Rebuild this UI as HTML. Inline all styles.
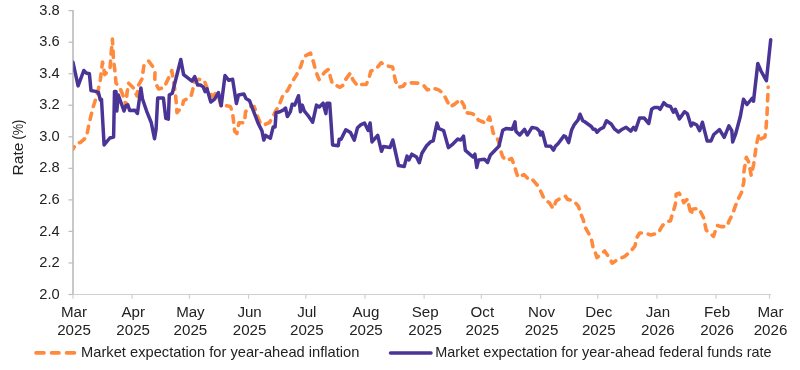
<!DOCTYPE html>
<html><head><meta charset="utf-8"><style>
html,body{margin:0;padding:0;background:#fff;}
body{width:800px;height:370px;overflow:hidden;}
svg{display:block;will-change:transform;}
.t{font-family:"Liberation Sans",sans-serif;font-size:14px;fill:#222;}
.lg{font-size:14px;}
</style></head><body>
<svg width="800" height="370" viewBox="0 0 800 370">
<line x1="73" y1="10" x2="73" y2="295" stroke="#C2C2C2" stroke-width="1.8"/>
<line x1="72.3" y1="294.5" x2="771" y2="294.5" stroke="#D0D0D0" stroke-width="1.2"/>
<line x1="68.5" y1="294.50" x2="73" y2="294.50" stroke="#BDBDBD" stroke-width="1.2"/>
<g transform="translate(59.80,298.60) scale(1.05,1)"><text x="0" y="0" text-anchor="end" class="t">2.0</text></g>
<line x1="68.5" y1="262.96" x2="73" y2="262.96" stroke="#BDBDBD" stroke-width="1.2"/>
<g transform="translate(59.80,267.06) scale(1.05,1)"><text x="0" y="0" text-anchor="end" class="t">2.2</text></g>
<line x1="68.5" y1="231.42" x2="73" y2="231.42" stroke="#BDBDBD" stroke-width="1.2"/>
<g transform="translate(59.80,235.52) scale(1.05,1)"><text x="0" y="0" text-anchor="end" class="t">2.4</text></g>
<line x1="68.5" y1="199.88" x2="73" y2="199.88" stroke="#BDBDBD" stroke-width="1.2"/>
<g transform="translate(59.80,203.98) scale(1.05,1)"><text x="0" y="0" text-anchor="end" class="t">2.6</text></g>
<line x1="68.5" y1="168.34" x2="73" y2="168.34" stroke="#BDBDBD" stroke-width="1.2"/>
<g transform="translate(59.80,172.44) scale(1.05,1)"><text x="0" y="0" text-anchor="end" class="t">2.8</text></g>
<line x1="68.5" y1="136.80" x2="73" y2="136.80" stroke="#BDBDBD" stroke-width="1.2"/>
<g transform="translate(59.80,140.90) scale(1.05,1)"><text x="0" y="0" text-anchor="end" class="t">3.0</text></g>
<line x1="68.5" y1="105.26" x2="73" y2="105.26" stroke="#BDBDBD" stroke-width="1.2"/>
<g transform="translate(59.80,109.36) scale(1.05,1)"><text x="0" y="0" text-anchor="end" class="t">3.2</text></g>
<line x1="68.5" y1="73.72" x2="73" y2="73.72" stroke="#BDBDBD" stroke-width="1.2"/>
<g transform="translate(59.80,77.82) scale(1.05,1)"><text x="0" y="0" text-anchor="end" class="t">3.4</text></g>
<line x1="68.5" y1="42.18" x2="73" y2="42.18" stroke="#BDBDBD" stroke-width="1.2"/>
<g transform="translate(59.80,46.28) scale(1.05,1)"><text x="0" y="0" text-anchor="end" class="t">3.6</text></g>
<line x1="68.5" y1="10.64" x2="73" y2="10.64" stroke="#BDBDBD" stroke-width="1.2"/>
<g transform="translate(59.80,14.74) scale(1.05,1)"><text x="0" y="0" text-anchor="end" class="t">3.8</text></g>
<line x1="73.00" y1="294.5" x2="73.00" y2="298.8" stroke="#D0D0D0" stroke-width="1.2"/>
<g transform="translate(74.00,317.00) scale(1.08,1)"><text x="0" y="0" text-anchor="middle" class="t">Mar</text></g>
<g transform="translate(74.00,334.80) scale(1.08,1)"><text x="0" y="0" text-anchor="middle" class="t">2025</text></g>
<line x1="132.15" y1="294.5" x2="132.15" y2="298.8" stroke="#D0D0D0" stroke-width="1.2"/>
<g transform="translate(133.15,317.00) scale(1.08,1)"><text x="0" y="0" text-anchor="middle" class="t">Apr</text></g>
<g transform="translate(133.15,334.80) scale(1.08,1)"><text x="0" y="0" text-anchor="middle" class="t">2025</text></g>
<line x1="189.40" y1="294.5" x2="189.40" y2="298.8" stroke="#D0D0D0" stroke-width="1.2"/>
<g transform="translate(190.40,317.00) scale(1.08,1)"><text x="0" y="0" text-anchor="middle" class="t">May</text></g>
<g transform="translate(190.40,334.80) scale(1.08,1)"><text x="0" y="0" text-anchor="middle" class="t">2025</text></g>
<line x1="248.56" y1="294.5" x2="248.56" y2="298.8" stroke="#D0D0D0" stroke-width="1.2"/>
<g transform="translate(249.56,317.00) scale(1.08,1)"><text x="0" y="0" text-anchor="middle" class="t">Jun</text></g>
<g transform="translate(249.56,334.80) scale(1.08,1)"><text x="0" y="0" text-anchor="middle" class="t">2025</text></g>
<line x1="305.80" y1="294.5" x2="305.80" y2="298.8" stroke="#D0D0D0" stroke-width="1.2"/>
<g transform="translate(306.80,317.00) scale(1.08,1)"><text x="0" y="0" text-anchor="middle" class="t">Jul</text></g>
<g transform="translate(306.80,334.80) scale(1.08,1)"><text x="0" y="0" text-anchor="middle" class="t">2025</text></g>
<line x1="364.96" y1="294.5" x2="364.96" y2="298.8" stroke="#D0D0D0" stroke-width="1.2"/>
<g transform="translate(365.96,317.00) scale(1.08,1)"><text x="0" y="0" text-anchor="middle" class="t">Aug</text></g>
<g transform="translate(365.96,334.80) scale(1.08,1)"><text x="0" y="0" text-anchor="middle" class="t">2025</text></g>
<line x1="424.11" y1="294.5" x2="424.11" y2="298.8" stroke="#D0D0D0" stroke-width="1.2"/>
<g transform="translate(425.11,317.00) scale(1.08,1)"><text x="0" y="0" text-anchor="middle" class="t">Sep</text></g>
<g transform="translate(425.11,334.80) scale(1.08,1)"><text x="0" y="0" text-anchor="middle" class="t">2025</text></g>
<line x1="481.36" y1="294.5" x2="481.36" y2="298.8" stroke="#D0D0D0" stroke-width="1.2"/>
<g transform="translate(482.36,317.00) scale(1.08,1)"><text x="0" y="0" text-anchor="middle" class="t">Oct</text></g>
<g transform="translate(482.36,334.80) scale(1.08,1)"><text x="0" y="0" text-anchor="middle" class="t">2025</text></g>
<line x1="540.51" y1="294.5" x2="540.51" y2="298.8" stroke="#D0D0D0" stroke-width="1.2"/>
<g transform="translate(541.51,317.00) scale(1.08,1)"><text x="0" y="0" text-anchor="middle" class="t">Nov</text></g>
<g transform="translate(541.51,334.80) scale(1.08,1)"><text x="0" y="0" text-anchor="middle" class="t">2025</text></g>
<line x1="597.76" y1="294.5" x2="597.76" y2="298.8" stroke="#D0D0D0" stroke-width="1.2"/>
<g transform="translate(598.76,317.00) scale(1.08,1)"><text x="0" y="0" text-anchor="middle" class="t">Dec</text></g>
<g transform="translate(598.76,334.80) scale(1.08,1)"><text x="0" y="0" text-anchor="middle" class="t">2025</text></g>
<line x1="656.92" y1="294.5" x2="656.92" y2="298.8" stroke="#D0D0D0" stroke-width="1.2"/>
<g transform="translate(657.92,317.00) scale(1.08,1)"><text x="0" y="0" text-anchor="middle" class="t">Jan</text></g>
<g transform="translate(657.92,334.80) scale(1.08,1)"><text x="0" y="0" text-anchor="middle" class="t">2026</text></g>
<line x1="716.07" y1="294.5" x2="716.07" y2="298.8" stroke="#D0D0D0" stroke-width="1.2"/>
<g transform="translate(717.07,317.00) scale(1.08,1)"><text x="0" y="0" text-anchor="middle" class="t">Feb</text></g>
<g transform="translate(717.07,334.80) scale(1.08,1)"><text x="0" y="0" text-anchor="middle" class="t">2026</text></g>
<line x1="769.50" y1="294.5" x2="769.50" y2="298.8" stroke="#D0D0D0" stroke-width="1.2"/>
<g transform="translate(770.50,317.00) scale(1.08,1)"><text x="0" y="0" text-anchor="middle" class="t">Mar</text></g>
<g transform="translate(770.50,334.80) scale(1.08,1)"><text x="0" y="0" text-anchor="middle" class="t">2026</text></g>
<g transform="translate(22.8,175.4) rotate(-90) scale(1.11,1)"><text x="0" y="0" class="t" style="font-size:14px">Rate</text></g>
<g transform="translate(22.8,139.6) rotate(-90) scale(0.91,1)"><text x="0" y="0" class="t" style="font-size:14px">(%)</text></g>
<defs><clipPath id="pc"><rect x="73.2" y="0" width="720" height="295"/></clipPath></defs><g clip-path="url(#pc)">
<polyline points="73.0,149.0 76.0,144.0 80.5,142.4 86.5,137.0 88.9,124.5 92.7,108.4 97.5,93.3 100.3,80.0 102.5,62.0 104.8,74.6 110.0,69.0 111.0,55.0 112.4,39.0 113.5,60.0 114.8,70.0 116.0,83.0 120.2,88.5 124.0,98.0 126.0,106.0 127.0,93.0 128.5,83.0 133.5,88.0 137.0,96.0 138.0,86.0 142.0,79.0 144.0,65.0 148.6,61.0 153.4,67.5 155.0,72.0 154.8,79.0 157.0,86.0 158.6,89.0 164.0,87.8 170.5,73.8 171.8,70.5 175.5,94.0 177.0,112.7 182.4,106.2 183.5,100.8 191.0,96.5 193.2,87.8 194.3,81.4 198.5,79.3 204.2,80.3 208.0,90.7 212.7,96.4 215.5,93.5 219.3,99.2 221.2,106.8 225.0,105.4 230.4,106.5 232.6,113.0 234.7,131.4 236.9,133.5 239.0,122.7 244.5,122.7 245.5,111.9 249.9,106.5 254.2,106.5 257.4,116.2 260.7,123.8 263.9,124.9 269.3,122.7 272.6,117.3 275.8,110.8 279.1,105.4 282.3,96.8 287.7,90.3 291.0,83.8 296.4,75.1 300.7,66.5 302.8,60.0 304.9,56.1 310.5,53.2 313.4,61.8 315.3,69.3 317.2,75.0 319.1,79.7 324.7,72.2 328.5,69.3 330.4,76.9 332.3,83.5 336.1,85.4 339.9,87.3 342.7,85.4 345.5,79.7 350.3,73.1 352.8,79.7 355.7,83.5 358.5,86.3 361.4,84.5 366.1,84.5 368.9,78.8 370.8,71.2 376.5,68.4 381.2,62.7 385.0,65.5 392.6,67.0 395.4,80.7 398.2,87.3 403.0,86.3 405.8,82.6 418.8,83.2 423.5,85.1 427.3,89.9 433.0,88.0 438.6,89.9 443.4,93.6 447.2,101.2 450.0,106.9 454.7,104.1 460.4,99.3 464.2,105.9 465.1,112.6 471.8,113.5 475.5,115.4 478.4,120.1 483.1,122.0 485.7,123.6 489.5,117.0 491.4,124.6 493.2,133.1 497.0,137.8 498.9,142.6 500.8,151.1 502.7,156.8 506.5,160.5 511.6,158.5 514.5,166.1 516.4,172.7 518.2,177.4 523.9,174.6 528.6,179.3 531.5,178.4 537.2,185.0 540.9,191.6 543.8,198.2 549.5,203.0 553.2,208.6 556.1,201.1 561.8,197.3 565.5,196.3 567.4,199.2 574.0,201.1 578.5,206.4 580.4,213.0 583.2,219.6 585.1,227.2 588.9,233.8 591.6,240.0 593.2,248.1 595.1,251.9 597.0,257.6 604.6,251.0 609.3,257.6 612.2,263.2 617.8,259.5 624.5,256.6 630.1,251.9 634.9,246.2 636.8,237.7 639.6,233.0 645.3,233.0 650.7,235.0 658.2,233.0 662.0,226.3 664.9,222.6 670.5,220.7 672.4,214.1 675.3,204.6 676.2,194.2 679.1,193.2 681.9,198.0 683.8,202.7 687.6,198.9 689.5,208.4 691.3,215.0 692.3,209.3 698.9,208.4 703.6,217.8 706.2,230.2 713.5,236.3 717.2,225.4 720.8,226.6 726.9,226.6 729.3,220.5 733.0,213.2 735.4,205.9 737.8,199.8 741.5,192.5 743.9,181.6 743.9,171.9 746.3,157.3 748.8,162.2 751.2,175.5 753.6,164.6 756.4,145.0 758.8,134.5 760.5,139.0 764.9,137.0 766.0,128.4 767.0,115.0 768.2,87.0" fill="none" stroke="#FF8A3D" stroke-width="3.6" stroke-dasharray="6.5 7" stroke-dashoffset="4" stroke-linecap="round" stroke-linejoin="round"/>
<polyline points="73.0,62.3 78.1,85.9 83.8,70.5 86.2,73.0 89.4,73.8 91.0,90.5 95.6,91.4 98.4,92.3 100.3,100.0 101.5,99.5 104.1,145.0 109.8,138.0 113.6,137.0 114.5,91.4 116.0,91.4 116.8,111.0 118.3,95.0 124.0,111.0 125.9,105.6 127.8,104.9 129.7,110.5 135.0,110.3 137.4,113.5 140.9,88.0 142.5,99.0 147.2,112.7 151.2,122.5 154.5,138.7 156.1,129.0 157.7,98.1 163.4,98.1 165.8,118.4 168.3,119.2 169.3,94.9 172.3,93.2 180.8,59.5 183.6,74.6 192.0,81.2 194.7,76.5 197.6,85.0 200.4,85.0 203.2,86.9 205.1,91.6 207.0,88.8 210.8,102.0 214.6,99.2 218.4,92.6 221.2,105.8 225.0,75.5 228.8,80.3 232.6,79.3 236.4,103.5 238.5,95.0 243.9,94.0 246.0,98.5 249.6,100.8 253.4,110.8 258.1,123.1 261.9,130.7 263.8,140.1 265.7,135.4 270.4,138.2 273.2,126.9 275.1,126.9 276.1,112.7 279.9,111.8 283.6,109.9 285.5,108.0 287.4,116.5 290.3,111.8 292.2,104.2 294.7,105.1 298.5,95.7 300.4,111.8 302.3,105.1 304.2,110.8 308.0,115.5 312.7,122.2 316.5,105.1 319.3,107.0 323.1,103.2 325.9,113.6 326.9,103.2 329.7,103.2 332.6,144.9 338.2,145.8 339.2,139.2 341.1,139.2 343.0,135.4 345.8,129.7 350.5,132.6 354.3,140.1 357.5,127.7 360.7,124.9 364.5,123.0 368.2,130.5 370.1,123.0 372.0,141.9 377.7,135.3 381.5,151.3 383.4,146.6 390.0,147.6 392.8,140.0 398.5,165.5 404.2,166.5 407.0,156.1 408.9,159.9 411.8,154.2 416.5,157.0 419.3,162.7 421.9,153.2 426.6,145.7 430.4,141.9 433.2,140.9 437.0,123.0 438.9,128.6 443.6,130.5 448.4,147.6 453.1,143.8 457.8,139.1 460.7,140.0 463.5,136.2 465.4,150.4 473.0,157.0 474.9,154.2 476.8,167.4 478.6,159.9 484.5,159.3 487.6,162.4 490.4,154.9 498.9,146.3 502.7,130.3 506.5,128.4 512.2,129.3 515.0,121.8 515.9,131.2 519.7,135.0 524.5,129.3 527.3,135.0 532.0,127.4 536.8,128.4 539.6,131.2 540.5,135.0 542.4,132.2 546.0,146.0 550.7,146.3 553.5,150.1 555.4,146.3 558.2,143.5 563.9,135.9 565.8,136.9 568.6,142.6 571.5,130.3 574.3,124.6 578.1,119.9 580.0,114.2 582.8,120.8 584.7,121.8 591.3,126.5 593.2,129.3 595.1,129.3 597.0,132.2 599.9,129.3 603.6,127.4 606.5,120.8 609.3,122.7 611.2,124.0 614.7,129.2 618.5,132.0 622.3,129.2 626.1,127.3 630.8,131.1 633.6,127.3 635.5,130.1 639.6,118.0 644.1,118.0 648.8,123.5 651.6,109.3 654.5,107.4 658.2,107.4 660.1,109.3 663.9,102.7 666.8,105.5 670.5,106.5 673.4,112.2 675.3,109.3 679.4,119.0 684.5,111.8 687.3,113.6 691.1,125.9 693.0,123.1 696.8,125.0 699.6,130.7 702.4,122.2 707.2,141.1 710.9,141.1 713.8,134.5 719.5,129.7 724.2,137.3 728.9,125.9 731.8,130.7 732.7,142.0 735.5,134.5 740.3,116.5 743.5,99.3 747.0,104.5 752.4,98.0 753.5,101.2 757.8,63.5 761.0,71.0 766.4,80.7 770.7,39.7" fill="none" stroke="#4A3596" stroke-width="3.5" stroke-linejoin="round" stroke-linecap="round"/>
</g>
<line x1="36" y1="352.9" x2="44" y2="352.9" stroke="#FF8A3D" stroke-width="3.6" stroke-linecap="round"/>
<line x1="51.5" y1="352.9" x2="59" y2="352.9" stroke="#FF8A3D" stroke-width="3.6" stroke-linecap="round"/>
<line x1="66.5" y1="352.9" x2="74.5" y2="352.9" stroke="#FF8A3D" stroke-width="3.6" stroke-linecap="round"/>
<line x1="390.5" y1="353" x2="431" y2="353" stroke="#4A3596" stroke-width="3.5" stroke-linecap="round"/>
<g transform="translate(81.00,357.00) scale(1.05,1)"><text x="0" y="0" text-anchor="start" class="t lg">Market expectation for year-ahead inflation</text></g>
<g transform="translate(435.20,357.00) scale(1.032,1)"><text x="0" y="0" text-anchor="start" class="t lg">Market expectation for year-ahead federal funds rate</text></g>
</svg>
</body></html>
